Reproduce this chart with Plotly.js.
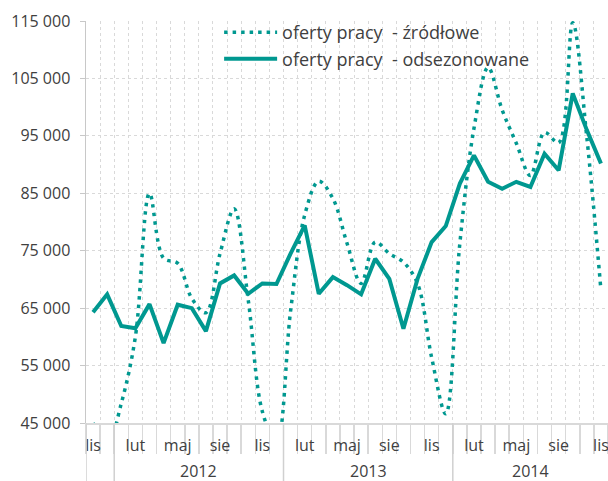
<!DOCTYPE html>
<html>
<head>
<meta charset="utf-8">
<script src="https://cdn.plot.ly/plotly-3.0.1.min.js"></script>
<style>html,body{margin:0;padding:0;background:#fff;}#chart{width:608px;height:481px;}</style>
</head>
<body>
<div id="chart"></div>
<script>
// Monthly categories: Nov 2011 .. Nov 2014
const months = ['lis','gru',
  'sty','lut','mar','kwi','maj','cze','lip','sie','wrz','paź','lis','gru',
  'sty','lut','mar','kwi','maj','cze','lip','sie','wrz','paź','lis','gru',
  'sty','lut','mar','kwi','maj','cze','lip','sie','wrz','paź','lis'];
const years = [2011,2011,
  2012,2012,2012,2012,2012,2012,2012,2012,2012,2012,2012,2012,
  2013,2013,2013,2013,2013,2013,2013,2013,2013,2013,2013,2013,
  2014,2014,2014,2014,2014,2014,2014,2014,2014,2014,2014];
const labelledYears = [2012, 2013, 2014];

const zrodlowe = [45000, 41000,
  48400, 60000, 85000, 73700, 72800, 66700, 64200, 74500, 82300, 66400, 47000, 41500,
  64500, 81200, 87100, 84100, 76300, 69300, 76500, 74500, 73000, 69300, 56400, 46600,
  76300, 96300, 106900, 99500, 93700, 88100, 95600, 93800, 114700, 94700, 68100];
const odsezonowane = [64300, 67400,
  61900, 61500, 65700, 58900, 65600, 65000, 61000, 69300, 70700, 67500, 69300, 69200,
  74500, 79400, 67500, 70400, 69000, 67400, 73600, 70100, 61400, 70100, 76500, 79300,
  86700, 91600, 87000, 85800, 87000, 86100, 91900, 89000, 102400, 96000, 90200];

const seriesNames = ['oferty pracy\u00a0 - źródłowe', 'oferty pracy\u00a0 - odsezonowane'];
const yTickVals = [45000, 55000, 65000, 75000, 85000, 95000, 105000, 115000];
const yTickText = ['45 000', '55 000', '65 000', '75 000', '85 000', '95 000', '105 000', '115 000'];
const monthLabelStep = 3;

const idx = months.map((_, i) => i);
const teal = '#009890';
const grid = '#d9d9d9';
const txt = '#404040';
const FONT = 'Open Sans, Noto Sans, sans-serif';

const boundaries = [];
for (let i = 0; i <= months.length; i++) boundaries.push(i - 0.5);
const labelIdx = idx.filter(i => i % monthLabelStep === 0);

const shapes = [];
const bottomPaper = -58 / 402;
shapes.push({type:'line', xref:'x', yref:'paper', x0:-0.5, x1:-0.5, y0:0, y1:bottomPaper,
  line:{color:'#d0d0d0', width:1.5}});
for (let i = 1; i < years.length; i++) {
  if (years[i] !== years[i-1]) {
    shapes.push({type:'line', xref:'x', yref:'paper', x0:i-0.5, x1:i-0.5, y0:0, y1:bottomPaper,
      line:{color:'#d0d0d0', width:1.5}});
  }
}
const annotations = labelledYears.map(y => {
  const ii = idx.filter(i => years[i] === y);
  return {xref:'x', yref:'paper', x:(ii[0] + ii[ii.length-1]) / 2, y:-0.119,
    text:String(y), showarrow:false, xanchor:'center', yanchor:'middle',
    font:{family:FONT, size:16, color:txt}};
});

const traces = [
  {x: idx, y: zrodlowe, name: seriesNames[0], type:'scatter', mode:'lines',
   line:{color:teal, width:3.5, dash:'3.5px,5px', shape:'spline', smoothing:1}, xaxis:'x', yaxis:'y'},
  {x: idx, y: odsezonowane, name: seriesNames[1], type:'scatter', mode:'lines',
   line:{color:teal, width:4}, xaxis:'x2', yaxis:'y'}
];

const layout = {
  width:608, height:481,
  margin:{l:86, r:0, t:21, b:58, pad:0},
  paper_bgcolor:'#fff', plot_bgcolor:'#fff',
  font:{family:FONT, size:16, color:txt},
  showlegend:true,
  legend:{x:0.255, y:1.017, xanchor:'left', yanchor:'top', bgcolor:'rgba(0,0,0,0)',
    itemwidth:53,
    font:{family:FONT, size:18, color:txt}, tracegroupgap:0},
  xaxis:{range:[-0.5, months.length - 0.5], tickmode:'array', tickvals:boundaries,
    showticklabels:false, ticks:'outside', ticklen:29, tickwidth:1.5, tickcolor:grid,
    showgrid:true, gridcolor:grid, griddash:'dot', gridwidth:1,
    showline:true, linecolor:grid, linewidth:2, zeroline:false, fixedrange:true},
  xaxis2:{range:[-0.5, months.length - 0.5], overlaying:'x', anchor:'y', side:'bottom',
    tickmode:'array', tickvals:labelIdx, ticktext:labelIdx.map(i => months[i]),
    ticks:'outside', ticklen:8, tickcolor:'rgba(0,0,0,0)', showgrid:false, showline:false,
    ticklabeloverflow:'allow',
    zeroline:false, tickfont:{family:FONT, size:16, color:txt}},
  yaxis:{range:[45000, 115000], tickmode:'array', tickvals:yTickVals, ticktext:yTickText,
    showgrid:true, gridcolor:grid, griddash:'dot', gridwidth:1,
    showline:true, linecolor:'#c8c8c8', linewidth:1.5, ticks:'outside', ticklen:5,
    tickcolor:'#c8c8c8', zeroline:false, tickfont:{family:FONT, size:16, color:txt},
    ticklabelstandoff:6},
  shapes: shapes,
  annotations: annotations
};

Plotly.newPlot('chart', traces, layout, {staticPlot:true, displayModeBar:false});
</script>
</body>
</html>
